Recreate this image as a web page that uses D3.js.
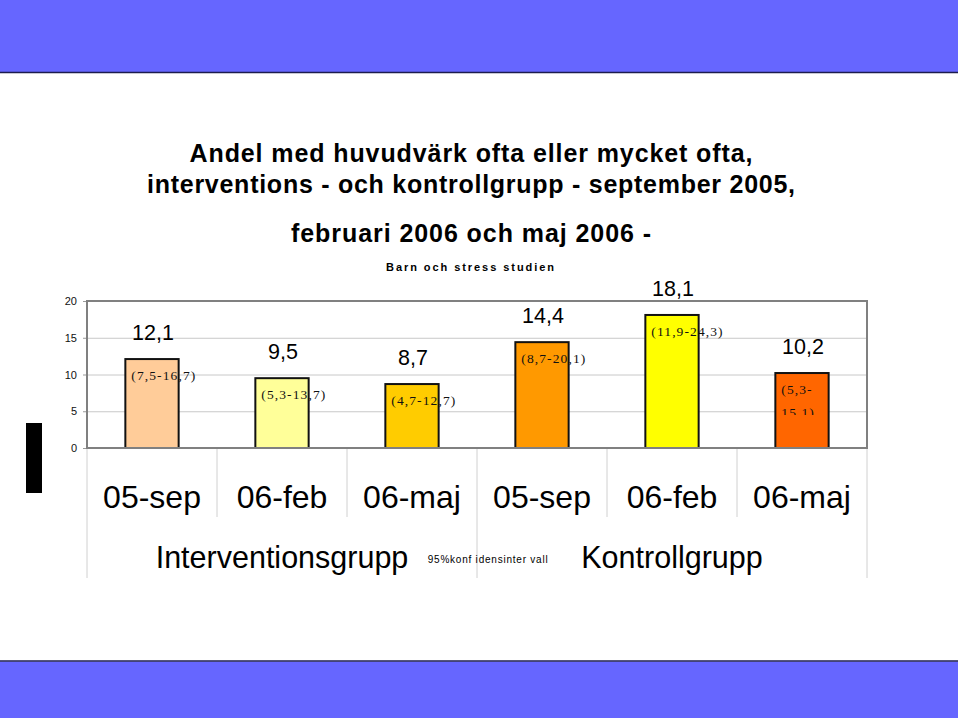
<!DOCTYPE html>
<html>
<head>
<meta charset="utf-8">
<script src="https://cdn.jsdelivr.net/npm/d3@7"></script>
<style>
  html, body { margin: 0; padding: 0; background: #fff; }
  svg { display: block; }
</style>
</head>
<body>
<svg id="chart" width="960" height="720"></svg>
<script>
// ---- data ----
const titleLines = [
  "Andel med huvudvärk ofta eller mycket ofta,",
  "interventions - och kontrollgrupp - september 2005,",
  "februari 2006 och maj 2006 -"
];
const subtitle = "Barn och stress studien";
const groups = ["Interventionsgrupp", "Kontrollgrupp"];
const categories = ["05-sep", "06-feb", "06-maj", "05-sep", "06-feb", "06-maj"];
const categoryGroup = [0, 0, 0, 1, 1, 1];
const values = [12.1, 9.5, 8.7, 14.4, 18.1, 10.2];
const valueLabels = ["12,1", "9,5", "8,7", "14,4", "18,1", "10,2"];
const ciLabels = ["(7,5-16,7)", "(5,3-13,7)", "(4,7-12,7)", "(8,7-20,1)", "(11,9-24,3)", "(5,3-|15,1)"];
const barColors = ["#FFCC99", "#FFFF99", "#FFCC00", "#FF9900", "#FFFF00", "#FF6600"];
const yTicks = [0, 5, 10, 15, 20];
const ciNote = "95%konf idensinter vall";

// ---- layout ----
const svg = d3.select("#chart");
const W = 960, H = 720;
const plot = { left: 87, right: 867, top: 301, bottom: 448 };
const sans = "'Liberation Sans', Arial, Helvetica, sans-serif";
const serif = "'Liberation Serif', 'Times New Roman', serif";

svg.append("rect").attr("width", W).attr("height", H).attr("fill", "#fff");

// banners
svg.append("rect").attr("x", 0).attr("y", 0).attr("width", 958).attr("height", 72).attr("fill", "#6666FF");
svg.append("line").attr("x1", 0).attr("x2", 958).attr("y1", 72.5).attr("y2", 72.5)
  .attr("stroke", "#1c1c4e").attr("stroke-width", 1.5);
svg.append("rect").attr("x", 0).attr("y", 661.5).attr("width", 958).attr("height", 56.5).attr("fill", "#6666FF");
svg.append("line").attr("x1", 0).attr("x2", 958).attr("y1", 661).attr("y2", 661)
  .attr("stroke", "#1c1c4e").attr("stroke-width", 1.5);

// title
const titleBase = [161.7, 193.3, 241.7];
const titleLen = [563, 648, 360];
titleLines.forEach((t, i) => {
  svg.append("text").attr("x", 471).attr("y", titleBase[i])
    .attr("text-anchor", "middle")
    .attr("font-family", sans).attr("font-weight", "bold").attr("font-size", 25)
    .attr("textLength", titleLen[i]).attr("lengthAdjust", "spacing")
    .text(t);
});
svg.append("text").attr("x", 470).attr("y", 270.7).attr("text-anchor", "middle")
  .attr("font-family", sans).attr("font-weight", "bold").attr("font-size", 11)
  .attr("textLength", 168).attr("lengthAdjust", "spacing")
  .text(subtitle);

// scales
const idx = d3.range(categories.length);
const x = d3.scaleBand().domain(idx).range([plot.left, plot.right]).padding(0);
const xg = d3.scaleBand().domain(d3.range(groups.length)).range([plot.left, plot.right]).padding(0);
const y = d3.scaleLinear().domain([0, 20]).range([plot.bottom, plot.top]);
const barW = x.bandwidth() * 0.41;
const barX = i => x(i) + (x.bandwidth() - barW) / 2;

// gridlines
const grid = svg.append("g").attr("transform", `translate(${plot.left},0)`)
  .call(d3.axisLeft(y).tickValues(yTicks.filter(v => v > 0 && v < 20))
    .tickSize(-(plot.right - plot.left)).tickFormat(""));
grid.select(".domain").remove();
grid.selectAll(".tick line").attr("stroke", "#c8c8c8").attr("stroke-width", 1);

// y axis ticks + labels
const yAxis = svg.append("g").attr("transform", `translate(${plot.left},0)`)
  .call(d3.axisLeft(y).tickValues(yTicks).tickSize(4).tickPadding(6).tickFormat(d3.format("d")));
yAxis.select(".domain").remove();
yAxis.selectAll(".tick line").attr("stroke", "#999");
yAxis.selectAll(".tick text").attr("font-family", sans).attr("font-size", 11).attr("fill", "#111");

// separators below the axis
const sepColor = "#d0d0d0";
idx.forEach(i => {
  if (i === 0) return;
  const isGroup = categoryGroup[i] !== categoryGroup[i - 1];
  svg.append("line").attr("x1", x(i)).attr("x2", x(i))
    .attr("y1", plot.bottom).attr("y2", isGroup ? 578 : 517)
    .attr("stroke", sepColor).attr("stroke-width", 1);
});
[plot.left, plot.right].forEach(px => {
  svg.append("line").attr("x1", px).attr("x2", px).attr("y1", plot.bottom).attr("y2", 578)
    .attr("stroke", sepColor).attr("stroke-width", 1);
});

// bar fills
svg.append("g").selectAll("rect").data(idx).join("rect")
  .attr("x", i => barX(i)).attr("y", i => y(values[i]))
  .attr("width", barW).attr("height", i => y(0) - y(values[i]))
  .attr("fill", i => barColors[i]);

// CI labels (clipped text boxes)
const defs = svg.append("defs");
idx.forEach(i => {
  const top = y(values[i]);
  const cp = defs.append("clipPath").attr("id", "ci" + i);
  cp.append("rect").attr("x", barX(i)).attr("y", top).attr("width", 120).attr("height", 42);
  const t = svg.append("text")
    .attr("clip-path", `url(#ci${i})`)
    .attr("font-family", serif).attr("font-size", 13.5)
    .attr("letter-spacing", 1.1).attr("fill", "#111");
  ciLabels[i].split("|").forEach((ln, k) => {
    t.append("tspan").attr("x", barX(i) + 6).attr("y", top + 21 + k * 22.5).text(ln);
  });
});

// bar outlines on top
svg.append("g").selectAll("rect").data(idx).join("rect")
  .attr("x", i => barX(i)).attr("y", i => y(values[i]))
  .attr("width", barW).attr("height", i => y(0) - y(values[i]))
  .attr("fill", "none").attr("stroke", "#111").attr("stroke-width", 2);

// value labels
svg.append("g").selectAll("text").data(idx).join("text")
  .attr("x", i => x(i) + x.bandwidth() / 2 + 1)
  .attr("y", i => y(values[i]) - 19)
  .attr("text-anchor", "middle")
  .attr("font-family", sans).attr("font-size", 21.5)
  .text(i => valueLabels[i]);

// plot frame
svg.append("rect").attr("x", plot.left).attr("y", plot.top)
  .attr("width", plot.right - plot.left).attr("height", plot.bottom - plot.top)
  .attr("fill", "none").attr("stroke", "#808080").attr("stroke-width", 2);

// category labels
svg.append("g").selectAll("text").data(idx).join("text")
  .attr("x", i => x(i) + x.bandwidth() / 2).attr("y", 508)
  .attr("text-anchor", "middle")
  .attr("font-family", sans).attr("font-size", 32)
  .text(i => categories[i]);

// group labels
svg.append("g").selectAll("text").data(d3.range(groups.length)).join("text")
  .attr("x", g => xg(g) + xg.bandwidth() / 2).attr("y", 568.3)
  .attr("text-anchor", "middle")
  .attr("font-family", sans).attr("font-size", 30.5)
  .text(g => groups[g]);

// CI note
svg.append("text").attr("x", 427.7).attr("y", 562.7)
  .attr("font-family", sans).attr("font-size", 10)
  .attr("textLength", 120).attr("lengthAdjust", "spacing")
  .text(ciNote);

// black block at left
svg.append("rect").attr("x", 26).attr("y", 423).attr("width", 16).attr("height", 70).attr("fill", "#000");
</script>
</body>
</html>
